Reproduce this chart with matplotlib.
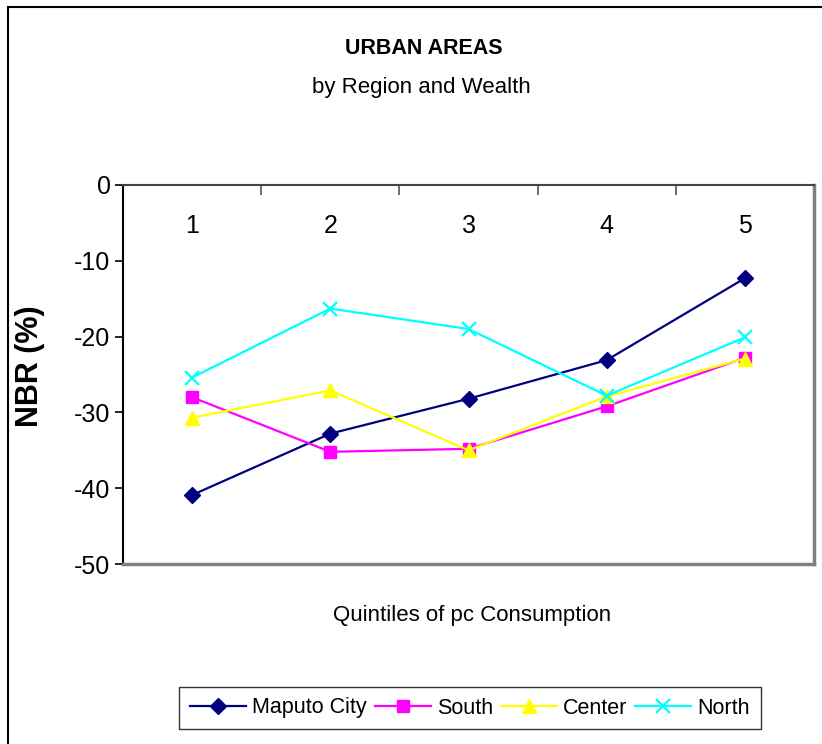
import matplotlib
matplotlib.use("Agg")
import matplotlib.pyplot as plt
from matplotlib.patches import Rectangle
from matplotlib.ticker import FixedLocator

plt.rcParams['font.family'] = ['Liberation Sans', 'DejaVu Sans']
plt.rcParams['axes.unicode_minus'] = False

# NBR (%) by quintile of per-capita consumption, urban areas
quintiles = ['1', '2', '3', '4', '5']
maputo = [-40.9, -32.8, -28.2, -23.1, -12.3]
south = [-28.0, -35.2, -34.8, -29.2, -22.8]
center = [-30.7, -27.1, -35.0, -27.9, -22.9]
north = [-25.4, -16.3, -19.0, -27.8, -20.1]

fig = plt.figure(figsize=(8.22, 7.44), dpi=100)
ax = fig.add_axes([123 / 822, 1 - 564 / 744, 691 / 822, 379 / 744])

x = range(len(quintiles))
ax.plot(x, maputo, color='#000080', lw=1.6, marker='D', ms=8, label='Maputo City')
ax.plot(x, south, color='#FF00FF', lw=1.6, marker='s', ms=8, label='South')
ax.plot(x, center, color='#FFFF00', lw=1.6, marker='^', ms=10, label='Center')
ax.plot(x, north, color='#00FFFF', lw=1.6, marker='x', ms=10, mew=1.6, label='North')

ax.set_xlim(-0.5, len(quintiles) - 0.5)
ax.set_ylim(-50, 0)
ax.set_yticks(range(-50, 1, 10))
ax.tick_params(axis='y', direction='out', length=6, width=1.2, labelsize=18, pad=3)

# category labels sit just under the top (zero) axis, boundary ticks point down
ax.set_xticks(list(x), quintiles)
ax.xaxis.set_minor_locator(FixedLocator([i + 0.5 for i in range(len(quintiles) - 1)]))
ax.tick_params(axis='x', which='major', top=True, bottom=False, labeltop=True,
               labelbottom=False, length=0, labelsize=18, pad=-38)
ax.tick_params(axis='x', which='minor', top=True, bottom=False, direction='in',
               length=7, width=1.2, color='#555555')

for side in ['right', 'bottom']:
    ax.spines[side].set_color('#808080')
    ax.spines[side].set_linewidth(2.5)
ax.spines['left'].set_color('black')
ax.spines['left'].set_linewidth(1.5)
ax.spines['top'].set_color('#444444')
ax.spines['top'].set_linewidth(1.5)

fig.text(424 / 822, 1 - 48 / 744, 'URBAN AREAS', ha='center', va='center',
         fontsize=15.5, fontweight='bold')
fig.text(421 / 822, 1 - 88 / 744, 'by Region and Wealth', ha='center', va='center',
         fontsize=16)
fig.text(30 / 822, 1 - 366 / 744, 'NBR (%)', ha='center', va='center',
         rotation=90, fontsize=22, fontweight='bold')
fig.text(472 / 822, 1 - 615 / 744, 'Quintiles of pc Consumption', ha='center',
         va='center', fontsize=16)

leg = fig.legend(loc='center', bbox_to_anchor=(470 / 822, 1 - 708 / 744), ncol=4,
                 fontsize=15.5, frameon=True, fancybox=False, handlelength=2.6,
                 handletextpad=0.3, columnspacing=0.35, borderpad=0.5)
leg.get_frame().set_edgecolor('black')
leg.get_frame().set_linewidth(1.0)

# outer chart border, running off the right and bottom edges
fig.patches.append(Rectangle((8 / 822, -0.05), 1.1, 1 - 7 / 744 + 0.05,
                             transform=fig.transFigure, fill=False,
                             edgecolor='black', lw=1.5))

fig.savefig('out.png', dpi=100)
